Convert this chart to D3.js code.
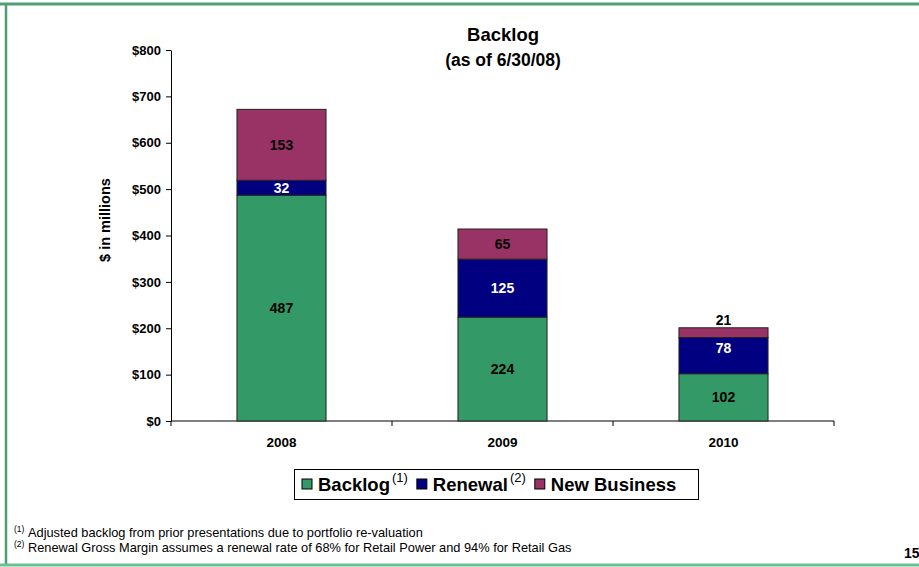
<!DOCTYPE html>
<html><head><meta charset="utf-8">
<script src="https://cdn.jsdelivr.net/npm/d3@7"></script>
<style>
body{margin:0;background:#fff;}
text{font-family:"Liberation Sans",Arial,sans-serif;}
</style></head>
<body><svg id="c" width="919" height="567"></svg>
<script>
const categories = ["2008", "2009", "2010"];
const seriesNames = ["Backlog", "Renewal", "New Business"];
const backlog = [487, 224, 102];
const renewal = [32, 125, 78];
const newBusiness = [153, 65, 21];
const yTicks = [0, 100, 200, 300, 400, 500, 600, 700, 800];
const colors = ["#339966", "#000080", "#993366"];
const labelColors = ["#000", "#fff", "#000"];
const superscripts = ["(1)", "(2)", ""];

const svg = d3.select("#c");
// frame
svg.append("rect").attr("x",0).attr("y",0).attr("width",919).attr("height",567).attr("fill","#fff");
svg.append("line").attr("x1",0).attr("x2",919).attr("y1",4).attr("y2",4).attr("stroke","#4f9d72").attr("stroke-width",3);
svg.append("line").attr("x1",6).attr("x2",6).attr("y1",3).attr("y2",565).attr("stroke","#4f9d72").attr("stroke-width",2.5);
svg.append("line").attr("x1",0).attr("x2",919).attr("y1",565).attr("y2",565).attr("stroke","#6cc092").attr("stroke-width",3);

const x = d3.scaleBand().domain(categories).range([171, 834]).paddingInner(0.597).paddingOuter(0.2985);
const y = d3.scaleLinear().domain([0, 800]).range([421, 50]);

const rows = categories.map((c,i)=>({cat:c, Backlog:backlog[i], Renewal:renewal[i], "New Business":newBusiness[i]}));
const stack = d3.stack().keys(seriesNames)(rows);

// axes
const yAxis = svg.append("g").attr("transform","translate(171,0)")
  .call(d3.axisLeft(y).tickValues(yTicks).tickSize(5).tickSizeOuter(0).tickFormat(d=>"$"+d));
yAxis.selectAll("text").attr("font-size",13).attr("font-weight","bold").attr("fill","#000").attr("dx",-2);
yAxis.select(".domain").attr("stroke","#000");
yAxis.selectAll("line").attr("stroke","#000");

const xg = svg.append("g").attr("transform","translate(0,421)");
xg.append("line").attr("x1",171).attr("x2",834).attr("stroke","#000");
const bounds = [x.range()[0]].concat(categories.map(c=>x(c)+x.bandwidth()/2+x.step()/2));
xg.selectAll("line.t").data(bounds).join("line").attr("class","t")
  .attr("x1",d=>d).attr("x2",d=>d).attr("y1",0).attr("y2",5).attr("stroke","#000");
xg.selectAll("text").data(categories).join("text")
  .attr("x",d=>x(d)+x.bandwidth()/2).attr("y",26).attr("text-anchor","middle")
  .attr("font-size",13.5).attr("font-weight","bold").text(d=>d);

// bars
stack.forEach((s,si)=>{
  svg.append("g").selectAll("rect").data(s).join("rect")
    .attr("x",d=>x(d.data.cat)).attr("width",x.bandwidth())
    .attr("y",d=>y(d[1])).attr("height",d=>y(d[0])-y(d[1]))
    .attr("fill",colors[si]).attr("stroke","#222").attr("stroke-width",1);
});
// labels
const segH = d => y(d[0]) - y(d[1]);
const small = 12;
stack.forEach((s,si)=>{
  svg.append("g").selectAll("text").data(s).join("text")
    .attr("x",d=>x(d.data.cat)+x.bandwidth()/2)
    .attr("y",(d,j)=>{
      if (segH(d) < small) return y(d[1]) - 3;
      const nextSmall = si < stack.length-1 && segH(stack[si+1][j]) < small;
      if (nextSmall) return y(d[1]) + 15;
      return (y(d[0])+y(d[1]))/2 + 5;
    })
    .attr("text-anchor","middle").attr("font-size",14).attr("font-weight","bold")
    .attr("fill",d=>segH(d)<small?"#000":labelColors[si])
    .text(d=>d[1]-d[0]);
});

// title
svg.append("text").attr("x",503).attr("y",41).attr("text-anchor","middle").attr("font-size",18.5).attr("font-weight","bold").text("Backlog");
svg.append("text").attr("x",503).attr("y",66).attr("text-anchor","middle").attr("font-size",17.5).attr("font-weight","bold").text("(as of 6/30/08)");
// y label
svg.append("text").attr("transform","translate(110,220) rotate(-90)").attr("text-anchor","middle")
  .attr("font-size",14.5).attr("font-weight","bold").text("$ in millions");

// legend
svg.append("rect").attr("x",294.5).attr("y",469.5).attr("width",404).attr("height",30).attr("fill","#fff").attr("stroke","#000");
const lg = svg.append("g");
let lx = 302;
seriesNames.forEach((n,i)=>{
  lg.append("rect").attr("x",lx).attr("y",479).attr("width",10).attr("height",10).attr("fill",colors[i]).attr("stroke","#000");
  const t = lg.append("text").attr("x",lx+16).attr("y",491).attr("font-size",18.5).attr("font-weight","bold");
  t.append("tspan").text(n);
  const w = t.node().getComputedTextLength();
  let end = lx+16+w;
  if (superscripts[i]) {
    const st = lg.append("text").attr("x",end+2).attr("y",482).attr("font-size",13).text(superscripts[i]);
    end = end + 2 + st.node().getComputedTextLength();
  }
  lx = end + 9;
});

// footnotes
const fn = [["(1)","Adjusted backlog from prior presentations due to portfolio re-valuation"],
            ["(2)","Renewal Gross Margin assumes a renewal rate of 68% for Retail Power and 94% for Retail Gas"]];
fn.forEach((f,i)=>{
  svg.append("text").attr("x",14).attr("y",532+i*15).attr("font-size",8.5).text(f[0]);
  svg.append("text").attr("x",28).attr("y",537+i*15).attr("font-size",12.8).text(f[1]);
});
svg.append("text").attr("x",904).attr("y",558).attr("font-size",14).attr("font-weight","bold").text("15");
</script></body></html>
